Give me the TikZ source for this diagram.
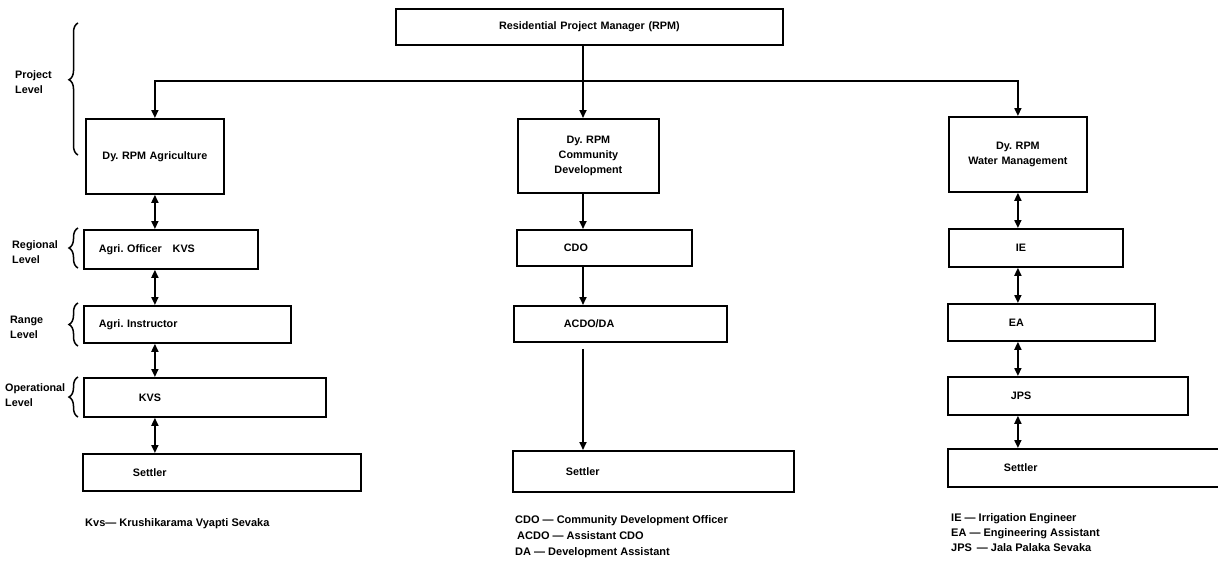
\documentclass[tikz,border=0pt]{standalone}
\usepackage{fontspec}
\setmainfont{Liberation Sans}
\usetikzlibrary{arrows.meta, positioning, decorations.pathreplacing}

\begin{document}
\begin{tikzpicture}[x=1pt, y=-1pt, font=\frenchspacing\bfseries\fontsize{10.8}{15}\selectfont,
  unit/.style={draw, line width=1.8pt, anchor=north west, inner sep=0pt},
  link/.style={line width=1.7pt, -{Triangle[length=8pt, width=7pt]}},
  both/.style={line width=1.7pt, {Triangle[length=8pt, width=7pt]}-{Triangle[length=8pt, width=7pt]}},
  lvl/.style={decorate, decoration={brace, amplitude=9pt}, line width=1.5pt},
  key/.style={anchor=north west, align=left, inner sep=0pt}]
  \useasboundingbox (0,0) rectangle (1218,565);

  % Top
  \node (rpm) [unit, text width=387pt, minimum height=36pt, align=center] at (395,8) {Residential Project Manager (RPM)};

  % Project level
  \node (dyag) [unit, text width=138pt, minimum height=75pt, align=center] at (85,118) {Dy. RPM Agriculture};
  \node (dycd) [unit, text width=141pt, minimum height=74pt, align=center] at (517,118) {Dy. RPM\\Community\\Development};
  \node (dywm) [unit, text width=138pt, minimum height=75pt, align=center] at (948,116) {Dy. RPM\\Water Management};

  % Regional level
  \node (ao) [unit, text width=174pt, minimum height=39pt, align=left] at (83,229) {\hspace*{15pt}Agri. Officer\quad KVS};
  \node (cdo) [unit, text width=175pt, minimum height=36pt, align=left] at (516,229) {\hspace*{47pt}CDO};
  \node (ie) [unit, text width=174pt, minimum height=38pt, align=left] at (948,228) {\hspace*{67pt}IE};

  % Range level
  \node (ai) [unit, text width=207pt, minimum height=37pt, align=left] at (83,305) {\hspace*{15pt}Agri. Instructor};
  \node (acdo) [unit, text width=213pt, minimum height=36pt, align=left] at (513,305) {\hspace*{50pt}ACDO/DA};
  \node (ea) [unit, text width=207pt, minimum height=37pt, align=left] at (947,303) {\hspace*{61pt}EA};

  % Operational level
  \node (kvs) [unit, text width=242pt, minimum height=39pt, align=left] at (83,377) {\hspace*{55pt}KVS};
  \node (jps) [unit, text width=240pt, minimum height=38pt, align=left] at (947,376) {\hspace*{63pt}JPS};

  % Settlers
  \node (st1) [unit, text width=278pt, minimum height=37pt, align=left] at (82,453) {\hspace*{50pt}Settler};
  \node (st2) [unit, text width=281pt, minimum height=41pt, align=left] at (512,450) {\hspace*{53pt}Settler};
  \node (st3) [unit, text width=280pt, minimum height=38pt, align=left] at (947,448) {\hspace*{56pt}Settler};

  % Connectors
  \coordinate (bus) at (583,81);
  \draw[link] (rpm.south -| bus) -- (dycd.north -| bus);
  \draw[link] (bus) -| (dyag.north);
  \draw[link] (bus) -| (dywm.north);

  \draw[both] (dyag.south) -- (ao.north -| dyag.south);
  \draw[both] (ao.south -| dyag.south) -- (ai.north -| dyag.south);
  \draw[both] (ai.south -| dyag.south) -- (kvs.north -| dyag.south);
  \draw[both] (kvs.south -| dyag.south) -- (st1.north -| dyag.south);

  \draw[link] (dycd.south -| bus) -- (cdo.north -| bus);
  \draw[link] (cdo.south -| bus) -- (acdo.north -| bus);
  \draw[link, shorten <=6pt] (acdo.south -| bus) -- (st2.north -| bus);

  \draw[both] (dywm.south) -- (ie.north -| dywm.south);
  \draw[both] (ie.south -| dywm.south) -- (ea.north -| dywm.south);
  \draw[both] (ea.south -| dywm.south) -- (jps.north -| dywm.south);
  \draw[both] (jps.south -| dywm.south) -- (st3.north -| dywm.south);

  % Levels
  \draw[lvl, decoration={aspect=0.57}] (78,155) -- (78,23);
  \draw[lvl] (78,268) -- (78,228);
  \draw[lvl] (78,346) -- (78,303);
  \draw[lvl] (78,417) -- (78,377);
  \node (lproj) [key, anchor=west] at (15,82) {Project\\Level};
  \node (lreg) [key, anchor=west] at (12,252) {Regional\\Level};
  \node (lrng) [key, anchor=west] at (10,327) {Range\\Level};
  \node (lopr) [key, anchor=west] at (5,395) {Operational\\Level};

  % Keys
  \node (kvskey) [key, anchor=west, font=\frenchspacing\bfseries\fontsize{11}{15}\selectfont] at (85,524) {Kvs--- Krushikarama Vyapti Sevaka};
  \node (cdokey) [key, font=\frenchspacing\bfseries\fontsize{11}{16}\selectfont] at (515,515) {CDO --- Community Development Officer\\\hspace*{2pt}ACDO --- Assistant CDO\\DA --- Development Assistant};
  \node (iekey) [key, font=\frenchspacing\bfseries\fontsize{11}{15}\selectfont] at (951,513) {IE --- Irrigation Engineer\\EA --- Engineering Assistant\\JPS\, --- Jala Palaka Sevaka};
\end{tikzpicture}
\end{document}
